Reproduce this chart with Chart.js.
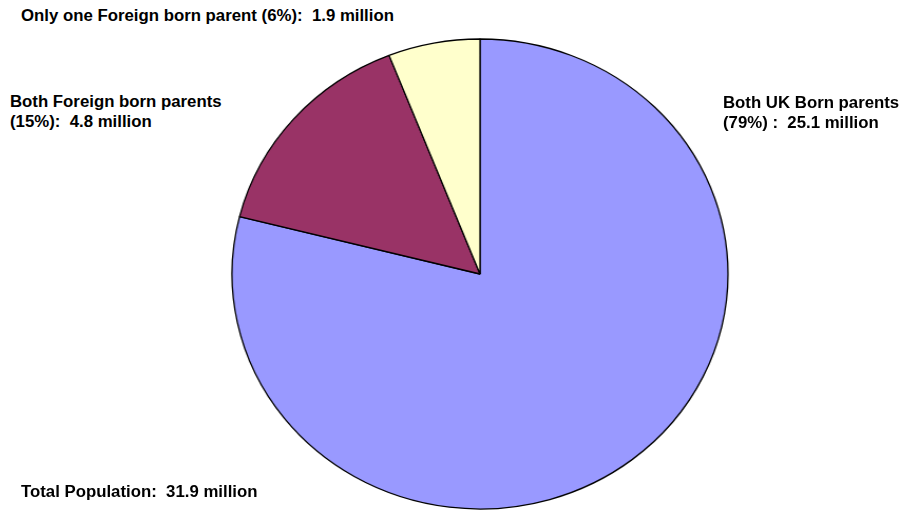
<!DOCTYPE html>
<html>
<head>
<meta charset="utf-8">
<script src="https://cdn.jsdelivr.net/npm/chart.js@4/dist/chart.umd.min.js"></script>
<style>
  html, body { margin: 0; padding: 0; background: #fff; overflow: hidden; }
  #page { position: relative; width: 902px; height: 511px; }
  #pieBox {
    position: absolute; left: 243px; top: 37px; width: 474px; height: 474px;
    transform: scaleX(1.0553); transform-origin: 50% 50%;
  }
  .lbl {
    position: absolute; white-space: pre;
    font-family: "Liberation Sans", Arial, sans-serif;
    font-weight: bold; font-size: 16.8px; line-height: 20px; color: #000;
  }
</style>
</head>
<body>
<div id="page">
  <div id="pieBox"><canvas id="parents-pie"></canvas></div>
  <div class="lbl" style="left:21px; top:6px;">Only one Foreign born parent (6%):  1.9 million</div>
  <div class="lbl" style="left:10px; top:92px;">Both Foreign born parents
(15%):  4.8 million</div>
  <div class="lbl" style="left:723px; top:93px;">Both UK Born parents
(79%) :  25.1 million</div>
  <div class="lbl" style="left:21px; top:482px;">Total Population:  31.9 million</div>
</div>
<script>
const parentGroups = ["Both UK Born parents", "Both Foreign born parents", "Only one Foreign born parent"];
const populationMillions = [25.1, 4.8, 1.9];
const sliceColours = ["#9999FF", "#993366", "#FFFFCC"];

new Chart("parents-pie", {
  type: "pie",
  data: {
    labels: parentGroups,
    datasets: [{
      data: populationMillions,
      backgroundColor: sliceColours,
      borderColor: "#000000",
      borderWidth: 1.3,
      radius: 235
    }]
  },
  options: {
    responsive: true,
    maintainAspectRatio: false,
    animation: false,
    events: [],
    layout: { padding: 0 },
    plugins: {
      legend: { display: false },
      tooltip: { enabled: false }
    }
  }
});
</script>
</body>
</html>
